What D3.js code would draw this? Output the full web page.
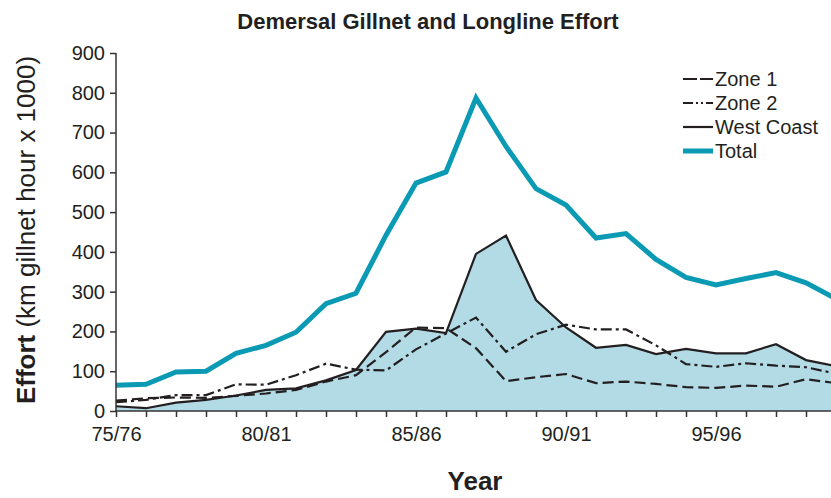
<!DOCTYPE html>
<html>
<head>
<meta charset="utf-8">
<script src="https://cdn.jsdelivr.net/npm/d3@7"></script>
<style>
  html, body { margin: 0; padding: 0; background: #fff; }
  svg { display: block; font-family: "Liberation Sans", Arial, sans-serif; }
</style>
</head>
<body>
<div id="chart"></div>
<script>
// season labels, 75/76 .. 99/00
const years = ["75/76","76/77","77/78","78/79","79/80","80/81","81/82","82/83","83/84","84/85",
  "85/86","86/87","87/88","88/89","89/90","90/91","91/92","92/93","93/94","94/95",
  "95/96","96/97","97/98","98/99","99/00"];
const tickLabels = ["75/76","80/81","85/86","90/91","95/96"];
const yTicks = [0,100,200,300,400,500,600,700,800,900];

const zone1 = [26,32,34,33,38,44,53,74,90,148,210,208,158,75,85,93,70,74,68,60,58,64,61,80,70];
const zone2 = [22,28,40,40,67,66,90,119,104,102,155,195,235,149,193,217,205,205,165,118,111,120,114,110,94];
const westCoast = [12,7,21,28,39,53,57,77,103,199,207,196,395,441,279,210,159,166,143,156,145,145,168,128,113];
const total = [65,67,98,100,145,165,198,270,296,442,573,601,787,665,559,518,435,446,381,336,317,333,348,322,282];

const width = 831, height = 498;
const svg = d3.select("#chart").append("svg")
  .attr("width", width).attr("height", height);

const x = d3.scalePoint().domain(years).range([116, 116 + 24 * 30]);
const y = d3.scaleLinear().domain([0, 900]).range([411, 53]);

const ink = "#231f20";
const teal = "#0a9ab4";

// filled area under West Coast
svg.append("path")
  .datum(westCoast)
  .attr("fill", "#b3dbe6")
  .attr("d", d3.area().x((d, i) => x(years[i])).y0(y(0)).y1(d => y(d)));

const line = d3.line().x((d, i) => x(years[i])).y(d => y(d));

const series = [
  { name: "Zone 1", data: zone1, color: ink, w: 2.2, dash: "11,5" },
  { name: "Zone 2", data: zone2, color: ink, w: 2.2, dash: "11,4,3,4" },
  { name: "West Coast", data: westCoast, color: ink, w: 2.2, dash: null },
  { name: "Total", data: total, color: teal, w: 5, dash: null }
];

series.forEach(s => {
  svg.append("path")
    .datum(s.data)
    .attr("fill", "none")
    .attr("stroke", s.color)
    .attr("stroke-width", s.w)
    .attr("stroke-dasharray", s.dash)
    .attr("stroke-linejoin", "miter")
    .attr("d", line);
});

// axes
const yAxis = d3.axisLeft(y).tickValues(yTicks).tickSize(6).tickPadding(5);
const gy = svg.append("g").attr("transform", "translate(116,0)").call(yAxis);
gy.select(".domain").attr("stroke", "#333").attr("stroke-width", 1.5).attr("d", "M0," + y(900) + "V" + y(0));
gy.selectAll(".tick line").attr("stroke", "#333").attr("stroke-width", 1.5);
gy.selectAll(".tick text").attr("font-size", 20).attr("fill", ink).attr("font-family", "Liberation Sans, Arial, sans-serif");

const xAxis = d3.axisBottom(x).tickSize(6).tickPadding(10)
  .tickFormat(d => tickLabels.includes(d) ? d : "");
const gx = svg.append("g").attr("transform", "translate(0," + y(0) + ")").call(xAxis);
gx.select(".domain").attr("stroke", "#333").attr("stroke-width", 1.5).attr("d", "M116,0H" + width);
gx.selectAll(".tick line").attr("stroke", "#333").attr("stroke-width", 1.5);
gx.selectAll(".tick text").attr("font-size", 20).attr("fill", ink).attr("font-family", "Liberation Sans, Arial, sans-serif");

// titles
svg.append("text")
  .attr("x", 428).attr("y", 29)
  .attr("text-anchor", "middle")
  .attr("font-size", 22).attr("font-weight", "bold").attr("fill", ink)
  .text("Demersal Gillnet and Longline Effort");

svg.append("text")
  .attr("x", 475).attr("y", 490)
  .attr("text-anchor", "middle")
  .attr("font-size", 26).attr("font-weight", "bold").attr("fill", ink)
  .text("Year");

const yt = svg.append("text")
  .attr("transform", "translate(35,230) rotate(-90)")
  .attr("text-anchor", "middle")
  .attr("font-size", 26).attr("fill", ink);
yt.append("tspan").attr("font-weight", "bold").text("Effort");
yt.append("tspan").text(" (km gillnet hour x 1000)");

// legend
const lg = svg.append("g").attr("transform", "translate(683,79)");
series.forEach((s, i) => {
  const row = lg.append("g").attr("transform", "translate(0," + i * 24 + ")");
  row.append("line")
    .attr("x1", 0).attr("x2", 30).attr("y1", 0).attr("y2", 0)
    .attr("stroke", s.color).attr("stroke-width", s.w)
    .attr("stroke-dasharray", s.dash ? (s.name === "Zone 1" ? "14,3,7,0" : "10,3,2,3,2,3") : null);
  row.append("text")
    .attr("x", 32).attr("y", 7)
    .attr("font-size", 20).attr("fill", ink)
    .text(s.name);
});
</script>
</body>
</html>
